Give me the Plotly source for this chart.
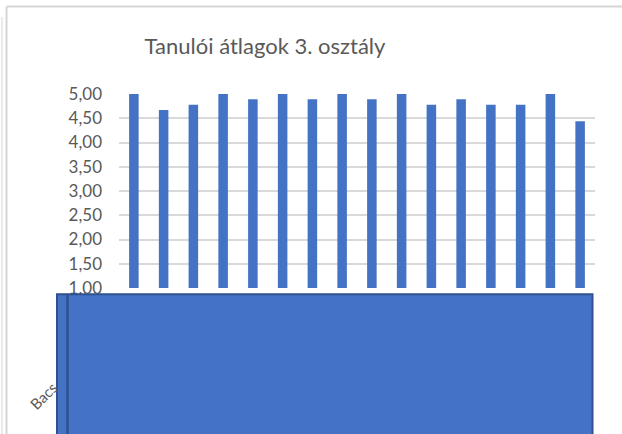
import plotly.graph_objects as go

students = list(range(1, 17))
averages = [5.00, 4.67, 4.78, 5.00, 4.89, 5.00, 4.89, 5.00,
            4.89, 5.00, 4.78, 4.89, 4.78, 4.78, 5.00, 4.44]
y_ticks = [1.0, 1.5, 2.0, 2.5, 3.0, 3.5, 4.0, 4.5, 5.0]
title_text = "Tanulói átlagok 3. osztály"
first_label = "Bacs"

W, H = 622, 434
L, R, T, B = 119, 27, 94, 146
pw, ph = W - L - R, H - T - B


def px(x):
    return (x - L) / pw


def py(y):
    return (H - B - y) / ph


fig = go.Figure()
fig.add_trace(go.Bar(
    x=students, y=[v - 1 for v in averages], base=1,
    width=0.32, marker=dict(color="#4472C4", line=dict(width=0)),
    hoverinfo="skip",
))

gray = "#595959"
fig.update_layout(
    width=W, height=H,
    margin=dict(l=L, r=R, t=T, b=B),
    paper_bgcolor="white", plot_bgcolor="white",
    separators=", ",
    showlegend=False,
    font=dict(family="Lato, Noto Sans, sans-serif", color=gray),
    title=dict(text=title_text, x=265 / W, y=1 - 46 / H, xanchor="center",
               yanchor="middle", xref="container", yref="container",
               font=dict(size=22, color=gray)),
    xaxis=dict(range=[0.5, 16.5], showticklabels=False, showgrid=False,
               zeroline=False, ticks=""),
    yaxis=dict(range=[1, 5], tickvals=y_ticks, tickformat=".2f",
               showgrid=True, gridcolor="#d9d9d9", gridwidth=1.5,
               zeroline=False, ticks="", ticklabelstandoff=16,
               tickfont=dict(size=17, color=gray)),
    shapes=[
        # outer chart border
        dict(type="line", xref="paper", yref="paper",
             x0=px(6.5), x1=px(640), y0=py(6.5), y1=py(6.5),
             line=dict(color="#d6d6d6", width=2), layer="below"),
        dict(type="line", xref="paper", yref="paper",
             x0=px(6.5), x1=px(6.5), y0=py(6.5), y1=py(460),
             line=dict(color="#d6d6d6", width=2), layer="below"),
        dict(type="line", xref="paper", yref="paper",
             x0=px(2), x1=px(2), y0=py(17), y1=py(460),
             line=dict(color="#e3e3e3", width=1.5), layer="below"),
        # blue overlay rectangle
        dict(type="rect", xref="paper", yref="paper",
             x0=px(57), x1=px(592.5), y0=py(294.3), y1=py(470),
             fillcolor="#4472C4", line=dict(color="#2F528F", width=2),
             layer="above"),
        dict(type="line", xref="paper", yref="paper",
             x0=px(67.5), x1=px(67.5), y0=py(295), y1=py(470),
             line=dict(color="#2F528F", width=2.5), layer="above"),
    ],
    annotations=[
        dict(text=first_label, xref="paper", yref="paper",
             x=px(43), y=py(396), showarrow=False, textangle=-45,
             xanchor="center", yanchor="middle",
             font=dict(size=15, color=gray)),
    ],
)

fig.write_html("out.html",
               config={"displayModeBar": False},
               post_script="document.body.style.margin='0';"
                           "document.body.style.overflow='hidden';")
